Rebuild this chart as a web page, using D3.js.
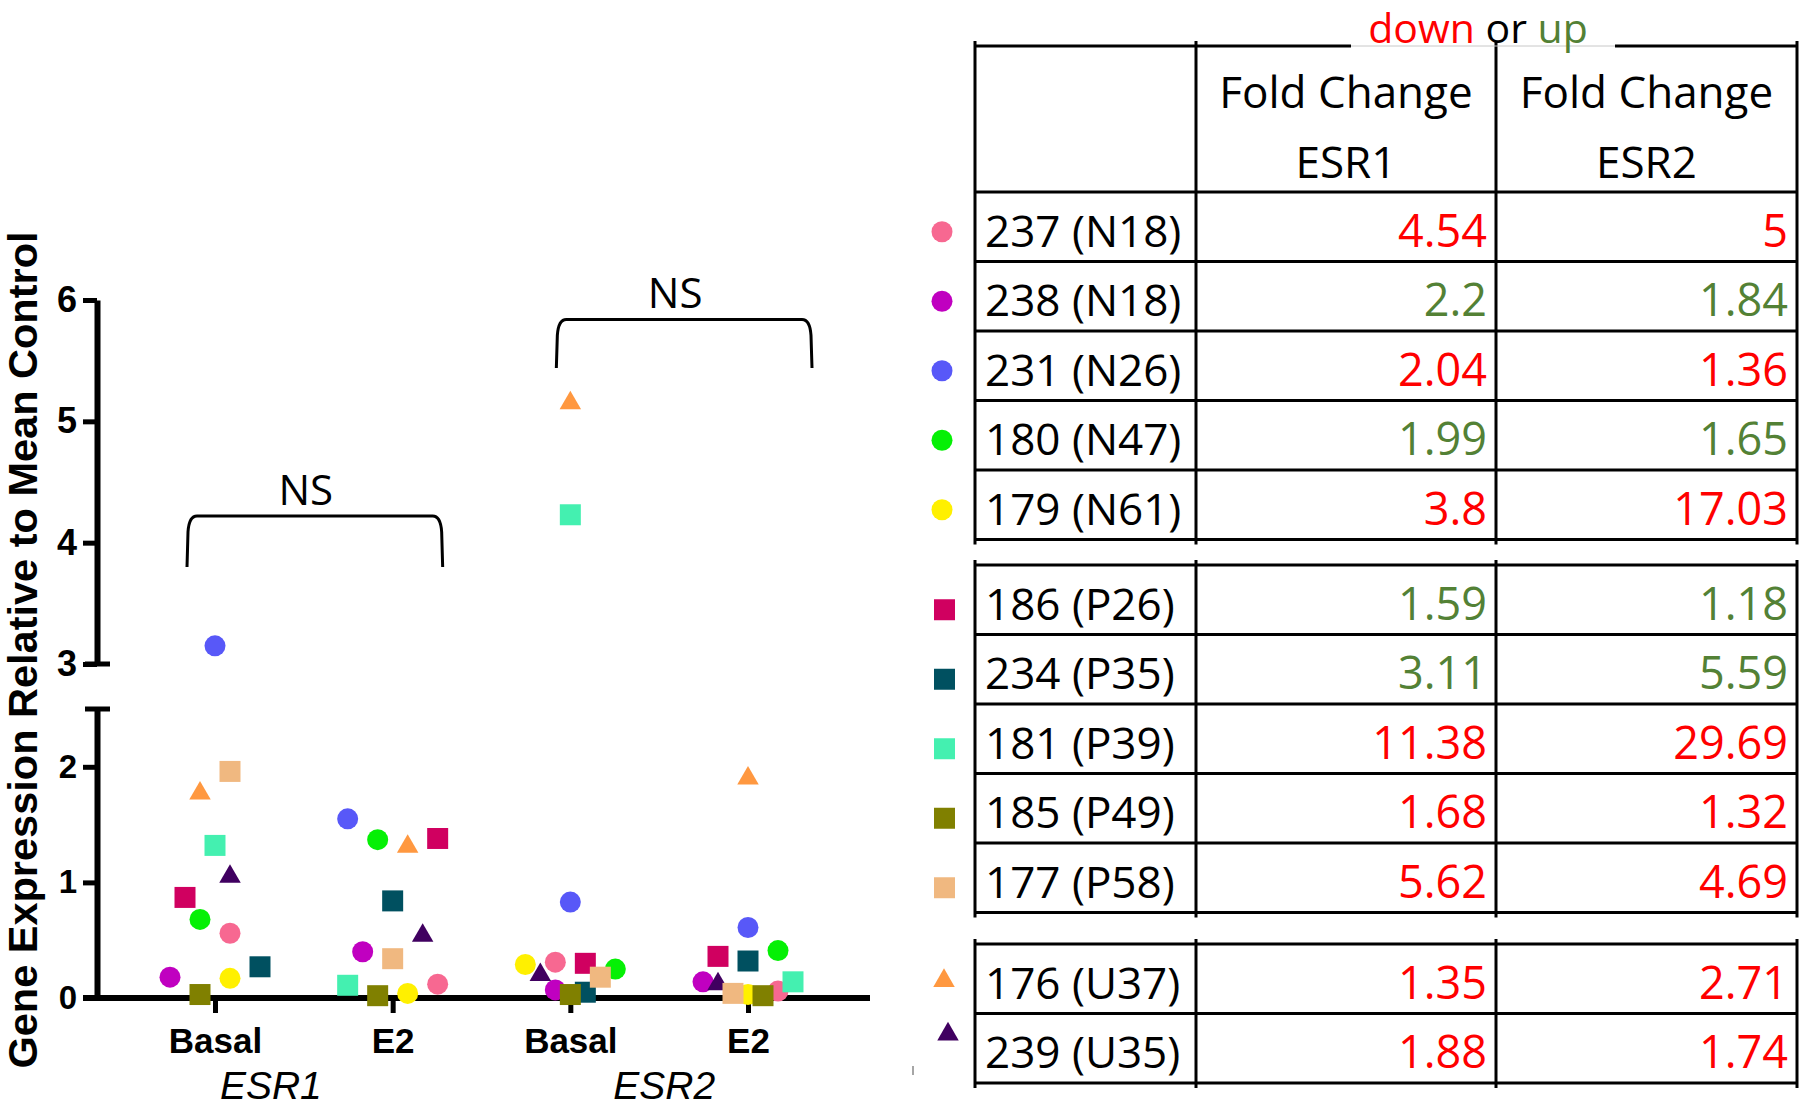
<!DOCTYPE html>
<html><head><meta charset="utf-8">
<script src="https://cdn.jsdelivr.net/npm/d3@7"></script>
<style>html,body{margin:0;padding:0;background:#fff;} svg{display:block;}</style>
</head><body>
<svg id="chart" width="1800" height="1109"></svg>
<script>
// ---------------- DATA ----------------
const patients = ["237 (N18)","238 (N18)","231 (N26)","180 (N47)","179 (N61)",
                  "186 (P26)","234 (P35)","181 (P39)","185 (P49)","177 (P58)",
                  "176 (U37)","239 (U35)"];
const shapes = ["circle","circle","circle","circle","circle",
                "square","square","square","square","square",
                "triangle","triangle"];
const colors = ["#f76891","#c000c0","#5858f8","#05f005","#fff000",
                "#d00060","#005060","#44f0b0","#808000","#f0b880",
                "#ff9840","#400060"];
const foldESR1 = [4.54, 2.2, 2.04, 1.99, 3.8, 1.59, 3.11, 11.38, 1.68, 5.62, 1.35, 1.88];
const foldESR2 = [5, 1.84, 1.36, 1.65, 17.03, 1.18, 5.59, 29.69, 1.32, 4.69, 2.71, 1.74];
const dirESR1 = ["down","up","down","up","down","up","up","down","down","down","down","down"];
const dirESR2 = ["down","up","down","up","down","up","up","down","down","down","down","down"];
const tableGroupsRows = [[0,1,2,3,4],[5,6,7,8,9],[10,11]];

const conditions = ["ESR1 Basal","ESR1 E2","ESR2 Basal","ESR2 E2"];
const conditionLabels = ["Basal","E2","Basal","E2"];
const genes = ["ESR1","ESR2"];
// gene expression relative to mean control, per patient (same order as patients)
const esr1Basal = [0.56, 0.18, 3.15, 0.68, 0.17, 0.87, 0.27, 1.32, 0.03, 1.96, 1.77, 1.05];
const esr1E2    = [0.12, 0.40, 1.55, 1.37, 0.04, 1.38, 0.84, 0.11, 0.02, 0.34, 1.31, 0.54];
const esr2Basal = [0.31, 0.07, 0.83, 0.25, 0.29, 0.30, 0.05, 4.23, 0.03, 0.18, 5.15, 0.20];
const esr2E2    = [0.06, 0.14, 0.61, 0.41, 0.03, 0.36, 0.32, 0.14, 0.02, 0.04, 1.90, 0.12];
// scatter column (jitter slot) of each point within its condition
const esr1BasalSlot = [1, -3, 0, -1, 1, -2, 3, 0, -1, 1, -1, 1];
const esr1E2Slot    = [3, -2, -3, -1, 1, 3, 0, -3, -1, 0, 1, 2];
const esr2BasalSlot = [-1, -1, 0, 3, -3, 1, 1, 0, 0, 2, 0, -2];
const esr2E2Slot    = [2, -3, 0, 2, 0, -2, 0, 3, 1, -1, 0, -2];
const yTicksLow = [0, 1, 2];
const yTicksHigh = [3, 4, 5, 6];
const brackets = [
  {from:"ESR1 Basal", to:"ESR1 E2", top:4.22, bottom:3.80, label:"NS"},
  {from:"ESR2 Basal", to:"ESR2 E2", top:5.84, bottom:5.44, label:"NS"}
];

// ---------------- LAYOUT ----------------
const svg = d3.select("#chart");
const AX = "'Liberation Sans', Arial, Helvetica, sans-serif";
const CAL = "'Open Sans', 'Noto Sans', sans-serif";
const RED = "#ff0000", GREEN = "#538135";

const x = d3.scalePoint().domain(conditions).range([215, 748]);
const slot = d3.scaleLinear().domain([-1, 1]).range([-15, 15]);
const yLow = d3.scaleLinear().domain([0, 2.5]).range([998, 709]);
const yHigh = d3.scaleLinear().domain([3, 6]).range([664, 300]);
const y = v => v > 2.75 ? yHigh(v) : yLow(v);

const symType = {circle: d3.symbolCircle, square: d3.symbolSquare, triangle: d3.symbolTriangle};
const symSize = {circle: Math.PI * 10.5 * 10.5, square: 21 * 21, triangle: 200};
const sym = s => d3.symbol().type(symType[s]).size(symSize[s])();

// ---- Y axis (broken) ----
const axisX = 97;
const gLow = svg.append("g").attr("transform", `translate(${axisX},0)`)
  .call(d3.axisLeft(yLow).tickValues(yTicksLow).tickSize(14).tickSizeOuter(0).tickPadding(6).tickFormat(d3.format("d")));
const gHigh = svg.append("g").attr("transform", `translate(${axisX},0)`)
  .call(d3.axisLeft(yHigh).tickValues(yTicksHigh).tickSize(14).tickSizeOuter(0).tickPadding(6).tickFormat(d3.format("d")));
[gLow, gHigh].forEach((g, i) => {
  g.select(".domain").attr("stroke", "#000").attr("stroke-width", 6);
  g.selectAll(".tick line").attr("stroke", "#000").attr("stroke-width", 5);
  g.selectAll(".tick text").attr("fill", "#000").style("font-family", AX)
    .style("font-weight", "bold").style("font-size", i === 0 ? "33px" : "36px");
});
// break caps
svg.append("line").attr("x1", axisX - 12).attr("x2", axisX + 13)
  .attr("y1", yHigh(3)).attr("y2", yHigh(3)).attr("stroke", "#000").attr("stroke-width", 5);
svg.append("line").attr("x1", axisX - 12).attr("x2", axisX + 13)
  .attr("y1", yLow(2.5)).attr("y2", yLow(2.5)).attr("stroke", "#000").attr("stroke-width", 5);

// ---- X axis ----
svg.append("line").attr("x1", 83).attr("x2", 870).attr("y1", yLow(0)).attr("y2", yLow(0))
  .attr("stroke", "#000").attr("stroke-width", 6);
const gx = svg.append("g").attr("transform", `translate(0,${yLow(0)})`)
  .call(d3.axisBottom(x).tickSize(15).tickSizeOuter(0).tickPadding(15)
    .tickFormat((d, i) => conditionLabels[i]));
gx.select(".domain").remove();
gx.selectAll(".tick line").attr("stroke", "#000").attr("stroke-width", 5);
gx.selectAll(".tick text").attr("fill", "#000").style("font-family", AX)
  .style("font-weight", "bold").style("font-size", "35px");

// gene labels
const geneOffset = {"ESR1": -33, "ESR2": 5};
svg.selectAll("text.gene").data(genes).join("text").attr("class", "gene")
  .attr("x", g => (x(g + " Basal") + x(g + " E2")) / 2 + geneOffset[g])
  .attr("y", 1099).attr("text-anchor", "middle")
  .style("font-family", AX).style("font-style", "italic").style("font-size", "39px")
  .text(g => g);

// y title
svg.append("text").attr("transform", "translate(37,650) rotate(-90)")
  .attr("text-anchor", "middle").style("font-family", AX).style("font-weight", "bold")
  .style("font-size", "41.5px").text("Gene Expression Relative to Mean Control");

// ---- brackets ----
const brOff = [{l:-28, r:50}, {l:-14, r:64}];
brackets.forEach((b, i) => {
  const x0 = x(b.from) + brOff[i].l, x1 = x(b.to) + brOff[i].r;
  const yt = yHigh(b.top), yb = yHigh(b.bottom);
  svg.append("path")
    .attr("d", `M${x0},${yb} L${x0 + 1},${yt + 16} Q${x0 + 2},${yt} ${x0 + 10},${yt} L${x1 - 10},${yt} Q${x1 - 2},${yt} ${x1 - 1},${yt + 16} L${x1},${yb}`)
    .attr("fill", "none").attr("stroke", "#000").attr("stroke-width", 3);
  svg.append("text").attr("x", (x0 + x1) / 2 - 9).attr("y", yt - 11)
    .attr("text-anchor", "middle").style("font-family", CAL).style("font-size", "42px")
    .text(b.label);
});

// ---- points ----
const condValues = [esr1Basal, esr1E2, esr2Basal, esr2E2];
const condSlots = [esr1BasalSlot, esr1E2Slot, esr2BasalSlot, esr2E2Slot];
const order = {circle: 0, triangle: 1, square: 2};
let pts = [];
conditions.forEach((c, ci) => {
  patients.forEach((p, pi) => {
    pts.push({cond: c, v: condValues[ci][pi], s: condSlots[ci][pi], shape: shapes[pi], color: colors[pi]});
  });
});
pts.sort((a, b) => order[a.shape] - order[b.shape]);
svg.append("g").selectAll("path").data(pts).join("path")
  .attr("d", d => sym(d.shape))
  .attr("transform", d => `translate(${x(d.cond) + slot(d.s)},${y(d.v)})`)
  .attr("fill", d => d.color);

// ---------------- TABLE ----------------
const cols = [975, 1196, 1496, 1797];
const rowH = 69.5;
const groupTops = [192, 565, 944];
const T = svg.append("g");
const line = (x1, y1, x2, y2, w = 3, c = "#000") =>
  T.append("line").attr("x1", x1).attr("y1", y1).attr("x2", x2).attr("y2", y2)
   .attr("stroke", c).attr("stroke-width", w);

tableGroupsRows.forEach((rows, gi) => {
  const top = groupTops[gi];
  const bottom = top + rows.length * rowH;
  const frameTop = gi === 0 ? 46 : top;
  cols.forEach(cx => line(cx, frameTop - 5, cx, bottom + 5));
  for (let i = 0; i <= rows.length; i++) line(cols[0] - 1, top + i * rowH, cols[3] + 1, top + i * rowH);
  rows.forEach((pi, ri) => {
    const mid = top + ri * rowH + rowH / 2;
    T.append("text").attr("x", cols[0] + 10).attr("y", mid + 20)
      .style("font-family", CAL).style("font-size", "44px").text(patients[pi]);
    T.append("text").attr("x", cols[2] - 9).attr("y", mid + 20).attr("text-anchor", "end")
      .style("font-family", CAL).style("font-size", "45px")
      .attr("fill", dirESR1[pi] === "up" ? GREEN : RED).text(String(foldESR1[pi]));
    T.append("text").attr("x", cols[3] - 9).attr("y", mid + 20).attr("text-anchor", "end")
      .style("font-family", CAL).style("font-size", "45px")
      .attr("fill", dirESR2[pi] === "up" ? GREEN : RED).text(String(foldESR2[pi]));
    // legend marker
    let mx = 942, my = mid + 5;
    if (shapes[pi] === "square") { mx = 944.5; my = mid + 10; }
    if (shapes[pi] === "triangle") { mx = ri === 0 ? 944 : 948; my = ri === 0 ? mid + 2 : mid - 14; }
    T.append("path").attr("d", sym(shapes[pi])).attr("transform", `translate(${mx},${my})`)
      .attr("fill", colors[pi]);
  });
});
// header top border with gap for "down or up"
line(cols[0] - 1, 46, 1351, 46);
line(1615, 46, cols[3] + 1, 46);
line(1351, 46, 1615, 46, 1, "#c8c8c8");
// header texts
[["Fold Change", "ESR1"], ["Fold Change", "ESR2"]].forEach((h, i) => {
  const cx = (cols[i + 1] + cols[i + 2]) / 2;
  T.append("text").attr("x", cx).attr("y", 108).attr("text-anchor", "middle")
    .style("font-family", CAL).style("font-size", "44px").text(h[0]);
  T.append("text").attr("x", cx).attr("y", 178).attr("text-anchor", "middle")
    .style("font-family", CAL).style("font-size", "44px").text(h[1]);
});
const dou = T.append("text").attr("x", 1478).attr("y", 43).attr("text-anchor", "middle")
  .style("font-family", CAL).style("font-size", "41px");
dou.append("tspan").attr("fill", RED).text("down");
dou.append("tspan").attr("fill", "#000").text(" or ");
dou.append("tspan").attr("fill", GREEN).text("up");
// small stray mark
line(913, 1066, 913, 1075, 1.5, "#888");
</script>
</body></html>
